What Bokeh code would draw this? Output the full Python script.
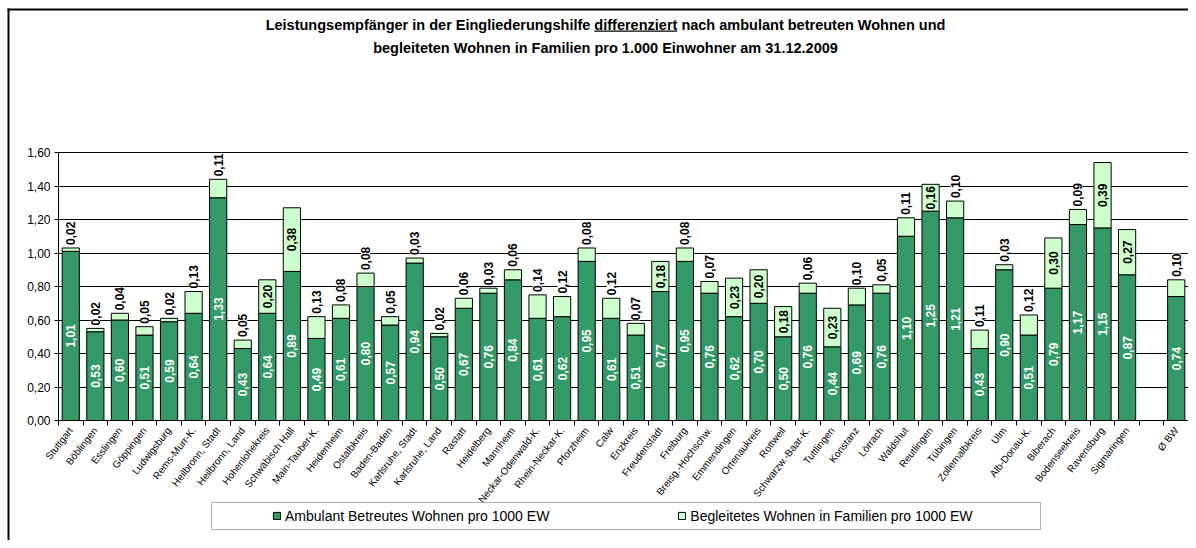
import math
from bokeh.plotting import figure
from bokeh.models import (ColumnDataSource, FixedTicker, CustomJSTickFormatter, LabelSet, Label,
                          Legend, LegendItem, Range1d, BoxAnnotation, Grid)
from bokeh.core.properties import value
from bokeh.embed import file_html
from bokeh.resources import INLINE

districts = ["Stuttgart", "Böblingen", "Esslingen", "Göppingen", "Ludwigsburg", "Rems-Murr-K.",
             "Heilbronn, Stadt", "Heilbronn, Land", "Hohenlohekreis", "Schwäbisch Hall",
             "Main-Tauber-K.", "Heidenheim", "Ostalbkreis", "Baden-Baden", "Karlsruhe, Stadt",
             "Karlsruhe, Land", "Rastatt", "Heidelberg", "Mannheim", "Neckar-Odenwald-K.",
             "Rhein-Neckar-K.", "Pforzheim", "Calw", "Enzkreis", "Freudenstadt", "Freiburg",
             "Breisg.-Hochschw.", "Emmendingen", "Ortenaukreis", "Rottweil", "Schwarzw.-Baar-K.",
             "Tuttlingen", "Konstanz", "Lörrach", "Waldshut", "Reutlingen", "Tübingen",
             "Zollernalbkreis", "Ulm", "Alb-Donau-K.", "Biberach", "Bodenseekreis", "Ravensburg",
             "Sigmaringen", "Ø BW"]
ambulant = [1.01, 0.53, 0.60, 0.51, 0.59, 0.64, 1.33, 0.43, 0.64, 0.89,
            0.49, 0.61, 0.80, 0.57, 0.94, 0.50, 0.67, 0.76, 0.84, 0.61,
            0.62, 0.95, 0.61, 0.51, 0.77, 0.95, 0.76, 0.62, 0.70, 0.50,
            0.76, 0.44, 0.69, 0.76, 1.10, 1.25, 1.21, 0.43, 0.90, 0.51,
            0.79, 1.17, 1.15, 0.87, 0.74]
familien = [0.02, 0.02, 0.04, 0.05, 0.02, 0.13, 0.11, 0.05, 0.20, 0.38,
            0.13, 0.08, 0.08, 0.05, 0.03, 0.02, 0.06, 0.03, 0.06, 0.14,
            0.12, 0.08, 0.12, 0.07, 0.18, 0.08, 0.07, 0.23, 0.20, 0.18,
            0.06, 0.23, 0.10, 0.05, 0.11, 0.16, 0.10, 0.11, 0.03, 0.12,
            0.30, 0.09, 0.39, 0.27, 0.10]
y_ticks = [0.0, 0.2, 0.4, 0.6, 0.8, 1.0, 1.2, 1.4, 1.6]
series_names = ["Ambulant Betreutes Wohnen pro 1000 EW", "Begleitetes Wohnen in Familien pro 1000 EW"]
title_pre = "Leistungsempfänger in der Eingliederungshilfe "
title_em = "differenziert"
title_post = " nach ambulant betreuten Wohnen und"
title_line2 = "begleiteten Wohnen in Familien pro 1.000 Einwohner am 31.12.2009"

DARK = "#339966"
LIGHT = "#CCFFCC"
FONT = "Liberation Sans"

# ---- canvas geometry (pixels) ----
CW, CH = 1188, 540
PLOT_L, PLOT_R = 58, 1188     # left / right edge of bar area
PLOT_T, PLOT_B = 152, 420     # y of 1.60 and of 0.00 (from canvas top)

# one empty slot before the state average
n = len(districts)
slots = list(range(n - 1)) + [n]
n_slots = n + 1
xs = [s + 0.5 for s in slots]
slot_names = [""] * n_slots
for s, name in zip(slots, districts):
    slot_names[s] = name

ymax = y_ticks[-1]
ppx = (PLOT_R - PLOT_L) / n_slots
ppy = (PLOT_B - PLOT_T) / ymax
x_range = Range1d(-PLOT_L / ppx, n_slots + (CW - PLOT_R) / ppx)
y_range = Range1d(-(CH - PLOT_B) / ppy, ymax + PLOT_T / ppy)

def fmt(v):
    return f"{v:.2f}".replace(".", ",")

total = [a + f for a, f in zip(ambulant, familien)]
src = ColumnDataSource(dict(x=xs, amb=ambulant, fam=familien, total=total,
                            amb_mid=[a / 2 for a in ambulant],
                            amb_lbl=[fmt(a) for a in ambulant]))
inside = [i for i, f in enumerate(familien) if f >= 0.15]
above = [i for i, f in enumerate(familien) if f < 0.15]
src_in = ColumnDataSource(dict(x=[xs[i] for i in inside],
                               y=[ambulant[i] + familien[i] / 2 for i in inside],
                               t=[fmt(familien[i]) for i in inside]))
src_up = ColumnDataSource(dict(x=[xs[i] for i in above],
                               y=[total[i] for i in above],
                               t=[fmt(familien[i]) for i in above]))

p = figure(width=CW, height=CH, output_backend="svg", toolbar_location=None,
           x_range=x_range, y_range=y_range, min_border=0,
           min_border_left=0, min_border_right=0, min_border_top=0, min_border_bottom=0)
p.title.visible = False
p.outline_line_color = None
p.background_fill_color = "white"
p.border_fill_color = "white"

# gridlines only across the bar area
p.xgrid.visible = False
p.ygrid.ticker = FixedTicker(ticks=y_ticks)
p.ygrid.grid_line_color = "black"
p.ygrid.grid_line_width = 1
if "cross_bounds" in Grid.properties():
    p.ygrid.cross_bounds = (0, n_slots)
else:
    p.ygrid.visible = False
    p.segment(x0=0, x1=n_slots, y0=y_ticks, y1=y_ticks, line_color="black", line_width=1,
              level="underlay")

r1 = p.vbar(x="x", bottom=0, top="amb", width=0.7, fill_color=DARK, line_color="black",
            line_width=1, source=src)
r2 = p.vbar(x="x", bottom="amb", top="total", width=0.7, fill_color=LIGHT, line_color="black",
            line_width=1, source=src)

# axes, pinned at the data origin
p.xaxis.fixed_location = 0
p.xaxis.bounds = (0, n_slots)
p.xaxis.ticker = FixedTicker(ticks=xs, minor_ticks=list(range(0, n_slots + 1)))
p.xaxis.formatter = CustomJSTickFormatter(args=dict(names=slot_names),
                                          code="return names[Math.floor(tick)] || '';")
p.xaxis.major_tick_out = 0
p.xaxis.major_tick_in = 0
p.xaxis.minor_tick_out = 5
p.xaxis.minor_tick_in = 0
p.xaxis.minor_tick_line_color = "black"
p.xaxis.axis_line_color = "black"
p.xaxis.major_label_orientation = math.radians(52)
p.xaxis.major_label_standoff = 3
p.xaxis.major_label_text_font = FONT
p.xaxis.major_label_text_font_size = "10px"
p.xaxis.major_label_text_color = "black"

p.yaxis.fixed_location = 0
p.yaxis.bounds = (0, ymax)
p.yaxis.ticker = FixedTicker(ticks=y_ticks)
p.yaxis.formatter = CustomJSTickFormatter(code="return tick.toFixed(2).replace('.', ',');")
p.yaxis.minor_tick_out = 0
p.yaxis.minor_tick_in = 0
p.yaxis.major_tick_out = 4
p.yaxis.major_tick_in = 0
p.yaxis.axis_line_color = "black"
p.yaxis.major_tick_line_color = "black"
p.yaxis.major_label_standoff = 4
p.yaxis.major_label_text_font = FONT
p.yaxis.major_label_text_font_size = "12px"
p.yaxis.major_label_text_color = "black"

# value labels
p.add_layout(LabelSet(x="x", y="amb_mid", text="amb_lbl", source=src, angle=90, angle_units="deg",
                      text_align="center", text_baseline="middle", text_color="white",
                      text_font=value(FONT), text_font_style="bold", text_font_size="12px"))
p.add_layout(LabelSet(x="x", y="y", text="t", source=src_in, angle=90, angle_units="deg",
                      text_align="center", text_baseline="middle", text_color="black",
                      text_font=value(FONT), text_font_style="bold", text_font_size="12px"))
p.add_layout(LabelSet(x="x", y="y", text="t", source=src_up, angle=90, angle_units="deg",
                      y_offset=3, text_align="left", text_baseline="middle", text_color="black",
                      text_font=value(FONT), text_font_style="bold", text_font_size="12px",
                      background_fill_color="white"))

def box(l, r, t, b, **kw):
    # l, r, t, b in canvas pixels measured from the top-left corner
    style = dict(fill_color="black", fill_alpha=1, line_color=None)
    style.update(kw)
    return BoxAnnotation(left=l, right=r, top=CH - t, bottom=CH - b, left_units="screen",
                         right_units="screen", top_units="screen", bottom_units="screen", **style)

# outer chart frame (top and left edges)
p.add_layout(box(7, CW + 10, 8, 10))
p.add_layout(box(7, 9, 8, CH + 10))

# title
TS = 14.5
T_CX = 605
AW = {' ': 278, 'a': 556, 'b': 611, 'c': 556, 'd': 611, 'e': 556, 'f': 333, 'g': 611, 'h': 611,
      'i': 278, 'k': 556, 'l': 278, 'm': 889, 'n': 611, 'o': 611, 'p': 611, 'r': 389, 's': 556,
      't': 333, 'u': 611, 'z': 500, 'ä': 556, 'E': 667, 'L': 611, 'W': 944}
def tw(s):
    return sum(AW.get(c, 556) for c in s) * TS / 1000.0
full = title_pre + title_em + title_post
L1_Y, L2_Y = 24, 47
for text, ty in ((full, L1_Y), (title_line2, L2_Y)):
    p.add_layout(Label(x=T_CX, y=CH - ty, x_units="screen", y_units="screen", text=text,
                       text_align="center", text_baseline="middle", text_font=FONT,
                       text_font_style="bold", text_font_size=f"{TS}px", text_color="black"))
u0 = T_CX - tw(full) / 2 + tw(title_pre)
p.add_layout(box(u0, u0 + tw(title_em), L1_Y + 6, L1_Y + 7.2))

# legend: frame box + items
p.add_layout(box(211, 1040, 502, 529, fill_color="white", line_color="black", line_width=1))
legend = Legend(items=[LegendItem(label=series_names[0], renderers=[r1]),
                       LegendItem(label=series_names[1], renderers=[r2])],
                orientation="horizontal", location=(272, CH - 523.5), padding=0, margin=0,
                spacing=128, glyph_width=9, glyph_height=9, label_standoff=4, label_height=16,
                label_text_font=FONT, label_text_font_size="14px", label_text_color="black",
                border_line_alpha=0, background_fill_alpha=0)
p.add_layout(legend)

open("out.html", "w").write(file_html(p, INLINE))
